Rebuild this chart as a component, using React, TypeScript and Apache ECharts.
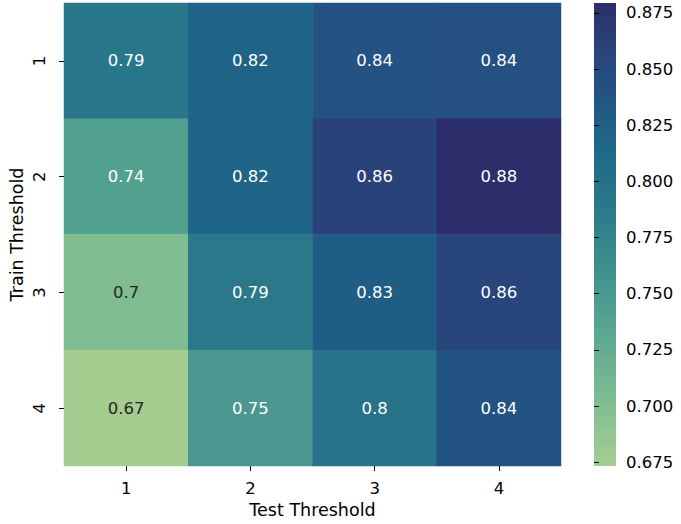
import React, { useEffect, useRef } from "react";
import * as echarts from "echarts";

const testThresholds = ["1", "2", "3", "4"];
const trainThresholds = ["1", "2", "3", "4"];
// rows = train threshold, columns = test threshold
const row1 = [0.7905, 0.8213, 0.8401, 0.8425];
const row2 = [0.7402, 0.8198, 0.8605, 0.8794];
const row3 = [0.7021, 0.7889, 0.8287, 0.8561];
const row4 = [0.6733, 0.7512, 0.7965, 0.8388];
const rows = [row1, row2, row3, row4];
const colorbarTicks = [0.675, 0.7, 0.725, 0.75, 0.775, 0.8, 0.825, 0.85, 0.875];

const VMIN = 0.6733;
const VMAX = 0.8794;

const cmapStops: [number, string][] = [
  [0, "#a5cd90"],
  [0.14, "#7fbd91"],
  [0.33, "#51a08f"],
  [0.56, "#2a788a"],
  [0.71, "#1e6587"],
  [0.81, "#235283"],
  [0.9, "#29447b"],
  [1, "#2c2e6b"],
];

function hexToRgb(h: string) {
  const n = parseInt(h.slice(1), 16);
  return [(n >> 16) & 255, (n >> 8) & 255, n & 255];
}
function sampleCmap(t: number) {
  for (let i = 0; i < cmapStops.length - 1; i++) {
    const [t0, c0] = cmapStops[i];
    const [t1, c1] = cmapStops[i + 1];
    if (t <= t1) {
      const f = (t - t0) / (t1 - t0);
      const a = hexToRgb(c0);
      const b = hexToRgb(c1);
      const r = a.map((x, k) => Math.round(x + (b[k] - x) * f));
      return `rgb(${r[0]},${r[1]},${r[2]})`;
    }
  }
  return cmapStops[cmapStops.length - 1][1];
}
const N_COLORS = 101;
const paletteColors = Array.from({ length: N_COLORS }, (_, i) => sampleCmap(i / (N_COLORS - 1)));

const FONT = "DejaVu Sans";
const FS = 16.5;
const NAME_FS = 17.5;

export default function App() {
  const ref = useRef<HTMLDivElement>(null);
  useEffect(() => {
    document.body.style.margin = "0";
    if (!ref.current) return;
    const chart = echarts.init(ref.current, null, { renderer: "svg" });
    const data: any[] = [];
    rows.forEach((row, j) => {
      row.forEach((v, i) => {
        data.push({
          value: [i, j, v],
          label: { color: v < 0.72 ? "#262626" : "#ffffff" },
        });
      });
    });
    chart.setOption({
      animation: false,
      textStyle: { fontFamily: FONT },
      grid: [
        { left: 64, top: 3, width: 497, height: 463, outerBoundsMode: "none", containLabel: false },
        { left: 594, top: 3, width: 22, height: 463, outerBoundsMode: "none", containLabel: false },
      ],
      xAxis: [
        {
          type: "category",
          gridIndex: 0,
          data: testThresholds,
          name: "Test Threshold",
          nameLocation: "middle",
          nameGap: 35,
          nameMoveOverlap: false,
          nameTextStyle: { fontSize: NAME_FS, color: "#000", fontFamily: FONT },
          axisLine: { show: false },
          axisTick: { show: true, alignWithLabel: true, length: 5, lineStyle: { color: "#000", width: 1 } },
          axisLabel: { fontSize: FS, color: "#000", margin: 14, fontFamily: FONT },
          splitLine: { show: false },
        },
        { type: "value", gridIndex: 1, show: false, min: 0, max: 1 },
      ],
      yAxis: [
        {
          type: "category",
          gridIndex: 0,
          data: trainThresholds,
          inverse: true,
          name: "Train Threshold",
          nameLocation: "middle",
          nameGap: 38,
          nameMoveOverlap: false,
          nameTextStyle: { fontSize: NAME_FS, color: "#000", fontFamily: FONT },
          axisLine: { show: false },
          axisTick: { show: true, alignWithLabel: true, length: 5, lineStyle: { color: "#000", width: 1 } },
          axisLabel: { fontSize: FS, color: "#000", rotate: 90, margin: 16, fontFamily: FONT },
          splitLine: { show: false },
        },
        {
          type: "value",
          gridIndex: 1,
          position: "right",
          min: VMIN,
          max: VMAX,
          axisLine: { show: false },
          splitLine: { show: false },
          axisTick: {
            show: true,
            length: 5,
            customValues: colorbarTicks,
            lineStyle: { color: "#000", width: 1 },
          },
          axisLabel: {
            show: true,
            customValues: colorbarTicks,
            fontSize: FS,
            color: "#000",
            margin: 10,
            fontFamily: FONT,
            formatter: (v: number) => v.toFixed(3),
          },
        },
      ],
      visualMap: {
        show: false,
        type: "continuous",
        seriesIndex: 0,
        dimension: 2,
        min: VMIN,
        max: VMAX,
        inRange: { color: paletteColors },
      },
      graphic: [
        {
          type: "rect",
          left: 594,
          top: 3,
          shape: { width: 22, height: 463 },
          style: {
            fill: new echarts.graphic.LinearGradient(
              0,
              1,
              0,
              0,
              cmapStops.map(([o, c]) => ({ offset: o, color: c }))
            ),
          },
          z: -1,
        },
      ],
      series: [
        {
          type: "heatmap",
          xAxisIndex: 0,
          yAxisIndex: 0,
          data,
          label: {
            show: true,
            fontSize: FS,
            fontFamily: FONT,
            formatter: (p: any) => String(Number(p.value[2].toPrecision(2))),
          },
          itemStyle: { borderWidth: 0 },
          emphasis: { disabled: true },
        },
        {
          type: "scatter",
          xAxisIndex: 1,
          yAxisIndex: 1,
          data: [],
        },
      ],
    });
    return () => chart.dispose();
  }, []);
  return <div ref={ref} style={{ width: 681, height: 524 }} />;
}
